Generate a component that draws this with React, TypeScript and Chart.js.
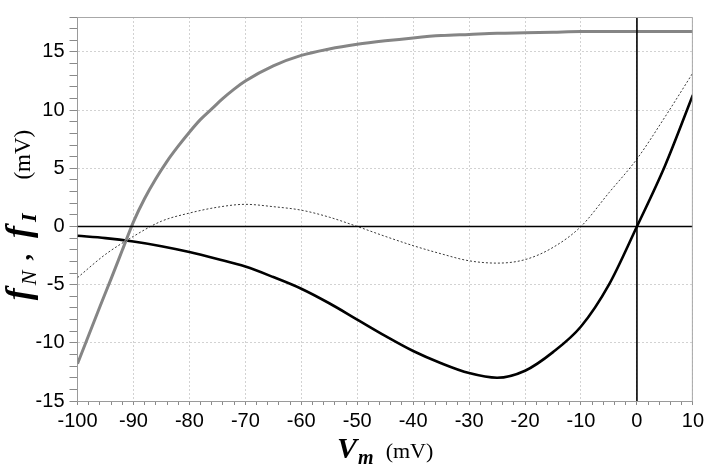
import React, { useEffect, useRef } from 'react';
import { Chart, registerables } from 'chart.js';

Chart.register(...registerables);

// Membrane potential (mV) for the black and dotted curves
const voltage = [-100, -95, -90, -85, -80, -75, -70, -65, -60, -55, -50, -45, -40, -35, -30, -25, -20, -15, -10, -5, 0, 5, 10];
// Thick black curve
const blackCurve = [-0.8, -1.0, -1.3, -1.7, -2.2, -2.8, -3.45, -4.35, -5.35, -6.6, -8.0, -9.4, -10.7, -11.75, -12.6, -13.0, -12.4, -10.8, -8.6, -5.0, 0, 5.2, 11.3];
// Thin dotted curve
const dottedCurve = [-4.4, -2.4, -0.85, 0.45, 1.15, 1.65, 1.9, 1.7, 1.4, 0.8, 0.0, -0.85, -1.65, -2.35, -2.95, -3.15, -2.85, -1.8, 0.0, 2.9, 5.8, 9.4, 13.2];
// Membrane potential (mV) for the gray curve
const voltageGray = [-100, -98, -96, -94, -92, -90, -88, -86, -84, -82, -80, -78, -76, -74, -72, -70, -65, -60, -55, -50, -45, -40, -35, -30, -25, -20, -15, -10, -5, 0, 5, 10];
// Thick gray curve
const grayCurve = [-11.8, -9.35, -6.9, -4.5, -2.05, 0.4, 2.4, 4.1, 5.6, 6.9, 8.1, 9.2, 10.1, 11.0, 11.8, 12.5, 13.8, 14.7, 15.25, 15.65, 15.95, 16.2, 16.4, 16.5, 16.6, 16.65, 16.7, 16.75, 16.75, 16.75, 16.75, 16.75];

// Axis ranges and ticks
const xRange = [-100, 10];
const yRange = [-15, 18];
const xMajorStep = 10;
const xMinorStep = 2;
const yMajorStep = 5;
const yMinorStep = 1;

const SERIF = '"Liberation Serif", "Times New Roman", serif';
const SANS = '"Liberation Sans", Arial, sans-serif';

type Piece = { t: string; font: string; dy?: number; dx?: number };

const xTitle: Piece[] = [
  { t: 'V', font: `italic bold 30px ${SERIF}` },
  { t: 'm', font: `italic bold 20px ${SERIF}`, dy: 6, dx: 1 },
  { t: '(mV)', font: `22px ${SERIF}`, dx: 12 },
];
const yTitle: Piece[] = [
  { t: 'f', font: `italic bold 36px ${SERIF}` },
  { t: 'N', font: `italic 22px ${SERIF}`, dy: 6, dx: 3 },
  { t: ',', font: `bold 26px ${SERIF}`, dx: 10 },
  { t: 'f', font: `italic bold 36px ${SERIF}`, dx: 16 },
  { t: 'I', font: `italic bold 22px ${SERIF}`, dy: 6, dx: 4 },
  { t: '(mV)', font: `23px ${SERIF}`, dx: 34 },
];

function measure(ctx: CanvasRenderingContext2D, pieces: Piece[]) {
  let w = 0;
  for (const p of pieces) {
    ctx.font = p.font;
    w += (p.dx || 0) + ctx.measureText(p.t).width;
  }
  return w;
}
function drawPieces(ctx: CanvasRenderingContext2D, pieces: Piece[], x: number, y: number) {
  let cx = x;
  for (const p of pieces) {
    ctx.font = p.font;
    cx += p.dx || 0;
    ctx.fillText(p.t, cx, y + (p.dy || 0));
    cx += ctx.measureText(p.t).width;
  }
}

const titlesPlugin = {
  id: 'richTitles',
  afterDraw(chart: any) {
    const ctx: CanvasRenderingContext2D = chart.ctx;
    const a = chart.chartArea;
    ctx.save();
    ctx.fillStyle = '#000';
    ctx.textBaseline = 'alphabetic';
    ctx.textAlign = 'left';
    // chart area frame (top/right)
    ctx.strokeStyle = '#a8a8a8';
    ctx.lineWidth = 1;
    ctx.beginPath();
    ctx.moveTo(a.left, a.top + 0.5);
    ctx.lineTo(a.right - 0.5, a.top + 0.5);
    ctx.lineTo(a.right - 0.5, a.bottom);
    ctx.stroke();
    // x title
    const wx = measure(ctx, xTitle);
    drawPieces(ctx, xTitle, (a.left + a.right) / 2 - wx / 2, 458);
    // y title
    const wy = measure(ctx, yTitle);
    ctx.translate(30, (a.top + a.bottom) / 2 + 6);
    ctx.rotate(-Math.PI / 2);
    drawPieces(ctx, yTitle, -wy / 2, 0);
    ctx.restore();
  },
};

function buildTicks(min: number, max: number, step: number) {
  const out: { value: number }[] = [];
  for (let v = min; v <= max + 1e-9; v += step) out.push({ value: Math.round(v * 1000) / 1000 });
  return out;
}

export default function App() {
  const ref = useRef<HTMLCanvasElement | null>(null);
  useEffect(() => {
    if (!ref.current) return;
    const toPts = (xs: number[], ys: number[]) => xs.map((x, i) => ({ x, y: ys[i] }));
    const chart = new Chart(ref.current, {
      type: 'line',
      data: {
        datasets: [
          {
            data: [{ x: xRange[0], y: 0 }, { x: xRange[1], y: 0 }],
            borderColor: '#000', borderWidth: 1.6, pointRadius: 0, tension: 0,
          },
          {
            data: [{ x: 0, y: yRange[0] }, { x: 0, y: yRange[1] }],
            borderColor: '#000', borderWidth: 1.6, pointRadius: 0, tension: 0,
          },
          {
            data: toPts(voltage, dottedCurve),
            borderColor: '#3a3a3a', borderWidth: 1, borderDash: [2, 2], pointRadius: 0,
            cubicInterpolationMode: 'monotone',
          },
          {
            data: toPts(voltageGray, grayCurve),
            borderColor: '#858585', borderWidth: 3, pointRadius: 0,
            cubicInterpolationMode: 'monotone',
          },
          {
            data: toPts(voltage, blackCurve),
            borderColor: '#000', borderWidth: 2.6, pointRadius: 0,
            cubicInterpolationMode: 'monotone',
          },
        ] as any,
      },
      options: {
        animation: false,
        responsive: false,
        events: [],
        layout: { padding: { top: 4, right: 15, left: 0, bottom: 0 } },
        plugins: { legend: { display: false }, tooltip: { enabled: false }, title: { display: false } },
        scales: {
          x: {
            type: 'linear',
            min: xRange[0],
            max: xRange[1],
            afterBuildTicks: (s: any) => { s.ticks = buildTicks(xRange[0], xRange[1], xMinorStep); },
            afterFit: (s: any) => { s.height = 69; },
            ticks: {
              autoSkip: false,
              maxRotation: 0,
              padding: 4,
              color: '#000',
              font: { family: SANS, size: 20 },
              callback: (v: any) => (Math.abs(Number(v) % xMajorStep) < 1e-6 ? String(v) : ''),
            },
            grid: {
              color: (c: any) => (c.tick && Math.abs(c.tick.value % xMajorStep) < 1e-6 ? '#d2d2d2' : 'rgba(0,0,0,0)'),
              tickColor: '#8a8a8a',
              tickLength: 4,
              lineWidth: 1,
            },
            border: { display: true, color: '#9a9a9a', width: 1, dash: [2, 2] },
          },
          y: {
            type: 'linear',
            min: yRange[0],
            max: yRange[1],
            afterBuildTicks: (s: any) => { s.ticks = buildTicks(yRange[0], yRange[1], yMinorStep); },
            afterFit: (s: any) => { s.width = 77.5; },
            ticks: {
              autoSkip: false,
              padding: 5,
              color: '#000',
              font: { family: SANS, size: 20 },
              callback: (v: any) => (Math.abs(Number(v) % yMajorStep) < 1e-6 && Number(v) <= 15 ? String(v) : ''),
            },
            grid: {
              color: (c: any) => (c.tick && Math.abs(c.tick.value % yMajorStep) < 1e-6 ? '#d2d2d2' : 'rgba(0,0,0,0)'),
              tickColor: '#8a8a8a',
              tickLength: 8,
              lineWidth: 1,
            },
            border: { display: true, color: '#9a9a9a', width: 1, dash: [2, 2] },
          },
        },
      } as any,
      plugins: [titlesPlugin],
    });
    return () => chart.destroy();
  }, []);
  return (
    <div style={{ position: 'fixed', left: 0, top: 0, width: 708, height: 470, background: '#fff' }}>
      <canvas ref={ref} width={708} height={470} style={{ display: 'block', width: 708, height: 470 }} />
    </div>
  );
}
